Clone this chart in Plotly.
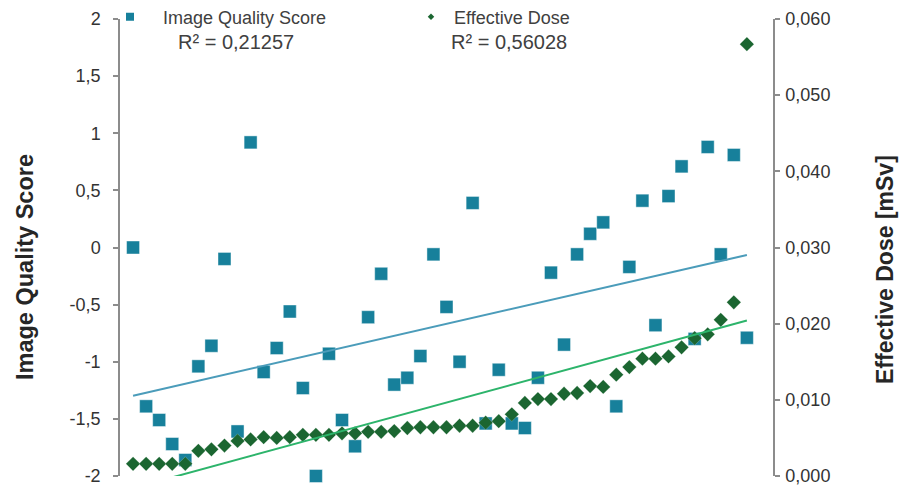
import numpy as np
import plotly.graph_objects as go

# Patient index (x) and the two measured series
patient = list(range(1, 49))
quality_score = [0.00, -1.39, -1.51, -1.72, -1.86, -1.04, -0.86, -0.10, -1.61, 0.92,
                 -1.09, -0.88, -0.56, -1.23, -2.00, -0.93, -1.51, -1.74, -0.61, -0.23,
                 -1.20, -1.14, -0.95, -0.06, -0.52, -1.00, 0.39, -1.54, -1.07, -1.54,
                 -1.58, -1.14, -0.22, -0.85, -0.06, 0.12, 0.22, -1.39, -0.17, 0.41,
                 -0.68, 0.45, 0.71, -0.80, 0.88, -0.06, 0.81, -0.79]
effective_dose = [0.0016, 0.0016, 0.0016, 0.0016, 0.0016, 0.0033, 0.0035, 0.0040, 0.0046, 0.0048,
                  0.0051, 0.0050, 0.0051, 0.0054, 0.0054, 0.0054, 0.0056, 0.0056, 0.0058, 0.0058,
                  0.0059, 0.0063, 0.0064, 0.0064, 0.0064, 0.0066, 0.0066, 0.0070, 0.0072, 0.0081,
                  0.0096, 0.0101, 0.0101, 0.0108, 0.0109, 0.0118, 0.0117, 0.0133, 0.0143, 0.0154,
                  0.0154, 0.0157, 0.0169, 0.0181, 0.0186, 0.0205, 0.0228, 0.0567]

quality_r2 = "R² = 0,21257"
dose_r2 = "R² = 0,56028"

left_ticks = [2, 1.5, 1, 0.5, 0, -0.5, -1, -1.5, -2]
left_labels = ["2", "1,5", "1", "0,5", "0", "-0,5", "-1", "-1,5", "-2"]
right_ticks = [0.0, 0.01, 0.02, 0.03, 0.04, 0.05, 0.06]
right_labels = ["0,000", "0,010", "0,020", "0,030", "0,040", "0,050", "0,060"]

SQ_COLOR = "#17809b"
DIA_COLOR = "#1b6631"
SQ_TREND = "#4b9cba"
DIA_TREND = "#2db46b"
FONT = "Liberation Sans, Arial, sans-serif"

# plot-area geometry in pixels (used to place legend and text in paper units)
L, R, T, B = 120, 138, 19, 13
PW, PH = 911 - L - R, 489 - T - B


def px_x(p):
    return (p - L) / PW


def px_y(p):
    return 1 - (p - T) / PH


x = np.array(patient, dtype=float)
q_fit = np.polyfit(x, quality_score, 1)
d_fit = np.polyfit(x, effective_dose, 1)
x_line = np.array([x.min(), x.max()])

fig = go.Figure()

# Image quality squares and linear trend (left axis)
fig.add_trace(go.Scatter(
    x=patient, y=quality_score, mode="markers", showlegend=False, cliponaxis=False,
    marker=dict(symbol="square", size=13, color=SQ_COLOR,
                line=dict(width=0.8, color="rgba(255,255,255,0.55)")),
    yaxis="y"))
fig.add_trace(go.Scatter(
    x=x_line, y=np.polyval(q_fit, x_line), mode="lines", showlegend=False,
    line=dict(color=SQ_TREND, width=2), yaxis="y"))

# Effective dose diamonds and linear trend (right axis)
fig.add_trace(go.Scatter(
    x=patient, y=effective_dose, mode="markers", showlegend=False, cliponaxis=False,
    marker=dict(symbol="diamond", size=11, color=DIA_COLOR,
                line=dict(width=0.5, color="rgba(255,255,255,0.4)")),
    yaxis="y2"))
fig.add_trace(go.Scatter(
    x=x_line, y=np.polyval(d_fit, x_line), mode="lines", showlegend=False,
    line=dict(color=DIA_TREND, width=2), yaxis="y2"))

# Legend entries
fig.add_trace(go.Scatter(
    x=[None], y=[None], mode="markers", name="Image Quality Score", legend="legend",
    marker=dict(symbol="square", size=8, color=SQ_COLOR)))
fig.add_trace(go.Scatter(
    x=[None], y=[None], mode="markers", name="Effective Dose", legend="legend2",
    marker=dict(symbol="diamond", size=5, color=DIA_COLOR)))

axis_line = "#8c8c8c"
tick_font = dict(family=FONT, size=18, color="#333333")
legend_font = dict(family=FONT, size=18, color="#404040")
r2_font = dict(family=FONT, size=20, color="#404040")

fig.update_layout(
    width=911, height=489,
    margin=dict(l=L, r=R, t=T, b=B, autoexpand=False),
    paper_bgcolor="white", plot_bgcolor="white",
    font=dict(family=FONT, color="#404040"),
    xaxis=dict(range=[0, 50], visible=False),
    yaxis=dict(range=[-2, 2], tickvals=left_ticks, ticktext=left_labels,
               showgrid=False, zeroline=False, showline=True, linecolor=axis_line,
               linewidth=1.5, ticks="outside", ticklen=5, tickcolor=axis_line,
               tickwidth=1.5, tickfont=tick_font, ticklabelstandoff=9),
    yaxis2=dict(range=[0, 0.06], tickvals=right_ticks, ticktext=right_labels,
                overlaying="y", side="right", anchor="x",
                showgrid=False, zeroline=False, showline=True, linecolor=axis_line,
                linewidth=1.5, ticks="outside", ticklen=5, tickcolor=axis_line,
                tickwidth=1.5, tickfont=tick_font, ticklabelstandoff=2),
    legend=dict(orientation="h", x=px_x(97), y=px_y(17), xanchor="left",
                yanchor="middle", itemwidth=56, bgcolor="rgba(0,0,0,0)",
                font=legend_font),
    legend2=dict(orientation="h", x=px_x(408), y=px_y(17), xanchor="left",
                 yanchor="middle", itemwidth=36, bgcolor="rgba(0,0,0,0)",
                 font=legend_font),
    annotations=[
        dict(text=quality_r2, xref="paper", yref="paper", x=px_x(235.5),
             y=px_y(42), xanchor="center", yanchor="middle", showarrow=False,
             font=r2_font),
        dict(text=dose_r2, xref="paper", yref="paper", x=px_x(508.5),
             y=px_y(42), xanchor="center", yanchor="middle", showarrow=False,
             font=r2_font),
        dict(text="<b>Image Quality Score</b>", xref="paper", yref="paper",
             x=px_x(25), y=px_y(267), textangle=-90,
             xanchor="center", yanchor="middle", showarrow=False,
             font=dict(family=FONT, size=23.5, color="#262626")),
        dict(text="<b>Effective Dose [mSv]</b>", xref="paper", yref="paper",
             x=px_x(885), y=px_y(270), textangle=-90,
             xanchor="center", yanchor="middle", showarrow=False,
             font=dict(family=FONT, size=23, color="#262626")),
    ],
)

fig.write_html("out.html")
